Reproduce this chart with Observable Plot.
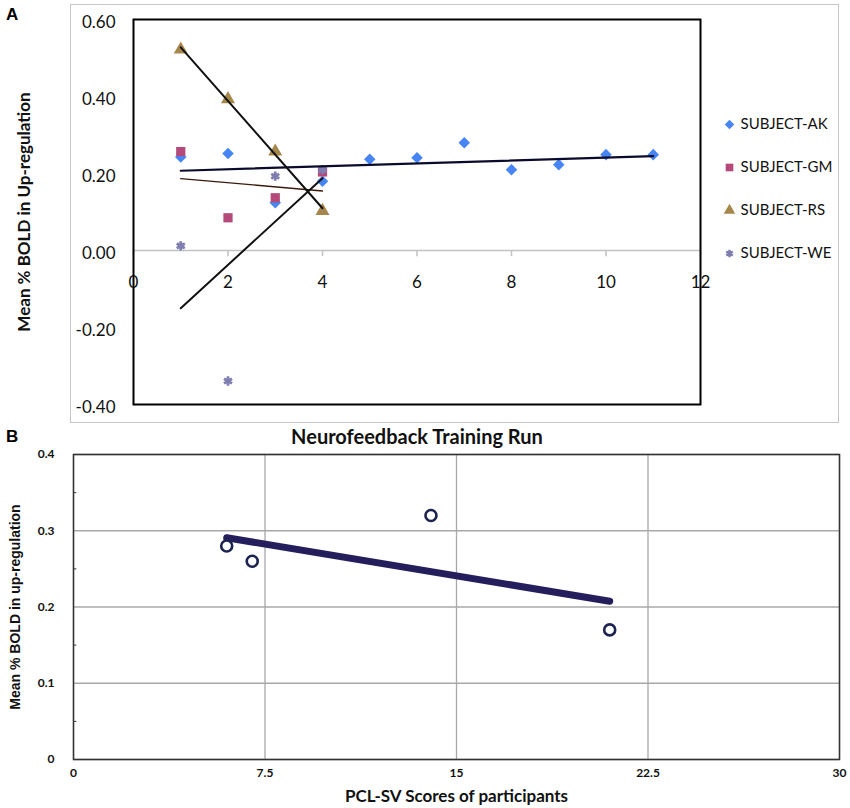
<!DOCTYPE html>
<html><head><meta charset="utf-8">
<script src="https://cdn.jsdelivr.net/npm/d3@7"></script>
<script src="https://cdn.jsdelivr.net/npm/@observablehq/plot@0.6"></script>
<style>
body{margin:0;background:#fff;}
#wrap{position:relative;width:850px;height:808px;overflow:hidden;background:#fff;}
.abs{position:absolute;}
#boxA{left:70px;top:4px;width:767px;height:417px;border:1.5px solid #c6c6c6;}
.panel{font:bold 17px "Liberation Sans",Arial,sans-serif;color:#000;}
svg{overflow:visible;}
</style></head><body>
<div id="wrap">
  <div id="boxA" class="abs"></div>
  <div id="plotA" class="abs" style="left:0;top:0"></div>
  <div id="legendA" class="abs" style="left:715px;top:89px"></div>
  <div id="plotB" class="abs" style="left:0;top:440px"></div>
  <div class="abs panel" style="left:6px;top:5px">A</div>
  <div class="abs panel" style="left:6px;top:427px">B</div>
</div>
<script>
// ---------- Panel A data ----------
const subjects = ["SUBJECT-AK", "SUBJECT-GM", "SUBJECT-RS", "SUBJECT-WE"];
const akRuns = [1, 2, 3, 4, 5, 6, 7, 8, 9, 10, 11];
const akBold = [0.243, 0.252, 0.124, 0.18, 0.237, 0.241, 0.28, 0.21, 0.223, 0.249, 0.249];
const gmRuns = [1, 2, 3, 4];
const gmBold = [0.257, 0.085, 0.137, 0.204];
const rsRuns = [1, 2, 3, 4];
const rsBold = [0.522, 0.393, 0.257, 0.103];
const weRuns = [1, 2, 3, 4];
const weBold = [0.012, -0.339, 0.193, 0.21];
const xTicksA = [0, 2, 4, 6, 8, 10, 12];
const yTicksA = [-0.4, -0.2, 0, 0.2, 0.4, 0.6];
const labelXA = "Neurofeedback Training Run";
const labelYA = "Mean % BOLD in Up-regulation";

// ---------- Panel B data ----------
const pclScores = [6, 7, 14, 21];
const pclBold = [0.28, 0.26, 0.32, 0.17];
const xTicksB = [0, 7.5, 15, 22.5, 30];
const yTicksB = [0, 0.1, 0.2, 0.3, 0.4];
const yMinorB = [0.05, 0.15, 0.25, 0.35];
const labelXB = "PCL-SV Scores of participants";
const labelYB = "Mean % BOLD in up-regulation";

// styles
const subjectColors = ["#4785f5", "#b4497a", "#a6874b", "#7e7eb0"];
const subjectSymbols = ["diamond2", "square", "triangle", "asterisk"];
const trendColors = ["#0a0a2c", "#3b1a0c", "#111111", "#111111"];
const trendWidths = [2.2, 1.4, 2, 2];

const seriesA = [
  [akRuns, akBold], [gmRuns, gmBold], [rsRuns, rsBold], [weRuns, weBold]
];
const dataA = seriesA.flatMap(([rs, vs], i) => rs.map((r, j) => ({subject: subjects[i], run: r, bold: vs[j]})));
const filledA = dataA.filter(d => d.subject !== subjects[3]);
const starA = dataA.filter(d => d.subject === subjects[3]);
const dataB = pclScores.map((p, i) => ({pcl: p, bold: pclBold[i]}));

const fontA = "Lato, 'Open Sans', sans-serif";

const plotA = Plot.plot({
  width: 850, height: 440,
  marginLeft: 133, marginRight: 150, marginTop: 19, marginBottom: 36,
  style: {fontFamily: fontA, fontSize: "17px", background: "transparent", color: "#111"},
  x: {domain: [0, 12], axis: null},
  y: {domain: [-0.4, 0.6], axis: null},
  color: {domain: subjects, range: subjectColors},
  symbol: {domain: subjects, range: subjectSymbols},
  marks: [
    Plot.ruleY([0], {stroke: "#c2c2c2", strokeWidth: 1.5}),
    Plot.ruleX(xTicksA, {x: d => d, y1: 0, y2: -0.016, stroke: "#c2c2c2", strokeWidth: 1.5}),
    Plot.text(xTicksA, {x: d => d, y: 0, dy: 32, text: d => String(d), fontSize: 17}),
    Plot.text(yTicksA, {frameAnchor: "left", y: d => d, dx: -18, dy: 3, textAnchor: "end", lineAnchor: "middle", text: d => d.toFixed(2), fontSize: 17}),
    Plot.dot(filledA, {x: "run", y: "bold", fill: "subject", symbol: "subject", r: 5.2}),
    Plot.dot(starA, {x: "run", y: "bold", stroke: "subject", symbol: "subject", r: 4.4, strokeWidth: 2.8}),
    ...subjects.map((s, i) => Plot.linearRegressionY(dataA.filter(d => d.subject === s), {
      x: "run", y: "bold", stroke: trendColors[i], strokeWidth: trendWidths[i], ci: 0
    })),
    Plot.frame({stroke: "#000", strokeWidth: 2}),
    Plot.text([labelYA], {frameAnchor: "left", rotate: -90, dx: -109, textAnchor: "middle", lineAnchor: "middle", text: d => d, fontWeight: "bold", fontSize: 17}),
    Plot.text([labelXA], {frameAnchor: "bottom", dy: 33, lineAnchor: "middle", text: d => d, fontWeight: "bold", fontSize: 20})
  ]
});
document.getElementById("plotA").appendChild(plotA);

const legendA = Plot.plot({
  width: 130, height: 200,
  marginLeft: 14, marginRight: 0, marginTop: 0, marginBottom: 0,
  style: {fontFamily: fontA, fontSize: "15px", background: "transparent", color: "#111"},
  x: {domain: [0, 1], axis: null},
  y: {type: "point", domain: subjects, range: [12, 12 + 3 * 58], axis: null},
  color: {domain: subjects, range: subjectColors},
  symbol: {domain: subjects, range: subjectSymbols},
  marks: [
    Plot.dot(subjects.slice(0, 3), {frameAnchor: "left", y: d => d, fill: d => d, symbol: d => d, r: 4.3}),
    Plot.dot(subjects.slice(3), {frameAnchor: "left", y: d => d, stroke: d => d, symbol: d => d, r: 3.6, strokeWidth: 2.4}),
    Plot.text(subjects, {frameAnchor: "left", y: d => d, dx: 11, textAnchor: "start", lineAnchor: "middle", text: d => d, fontSize: 15})
  ]
});
document.getElementById("legendA").appendChild(legendA);

const plotB = Plot.plot({
  width: 850, height: 368,
  marginLeft: 73, marginRight: 11, marginTop: 14, marginBottom: 49,
  style: {fontFamily: fontA, fontSize: "12px", background: "transparent", color: "#111"},
  x: {domain: [0, 30], axis: null},
  y: {domain: [0, 0.4], axis: null},
  marks: [
    Plot.ruleX(xTicksB, {x: d => d, stroke: "#a8a8a8", strokeWidth: 1.3}),
    Plot.ruleY(yTicksB, {y: d => d, stroke: "#a8a8a8", strokeWidth: 1.3}),
    Plot.ruleY(yMinorB, {y: d => d, x1: 0, x2: 0.13, stroke: "#333"}),
    Plot.text(yTicksB, {frameAnchor: "left", y: d => d, dx: -19, textAnchor: "end", lineAnchor: "middle", text: d => String(d), fontWeight: "bold", fontSize: 12}),
    Plot.text(xTicksB, {frameAnchor: "bottom", x: d => d, dy: 14, lineAnchor: "middle", text: d => String(d), fontWeight: "bold", fontSize: 12}),
    Plot.linearRegressionY(dataB, {x: "pcl", y: "bold", stroke: "#241f5c", strokeWidth: 7, ci: 0}),
    Plot.dot(dataB, {x: "pcl", y: "bold", r: 5.5, stroke: "#1b2350", strokeWidth: 2.6, fill: "white"}),
    Plot.frame({stroke: "#333", strokeWidth: 1.5}),
    Plot.text([labelYB], {frameAnchor: "left", rotate: -90, dx: -58, textAnchor: "middle", lineAnchor: "middle", text: d => d, fontWeight: "bold", fontSize: 14, fontFamily: "'Liberation Sans', Arial, sans-serif"}),
    Plot.text([labelXB], {frameAnchor: "bottom", dy: 37, lineAnchor: "middle", text: d => d, fontWeight: "bold", fontSize: 17})
  ]
});
document.getElementById("plotB").appendChild(plotB);
</script>
</body></html>
